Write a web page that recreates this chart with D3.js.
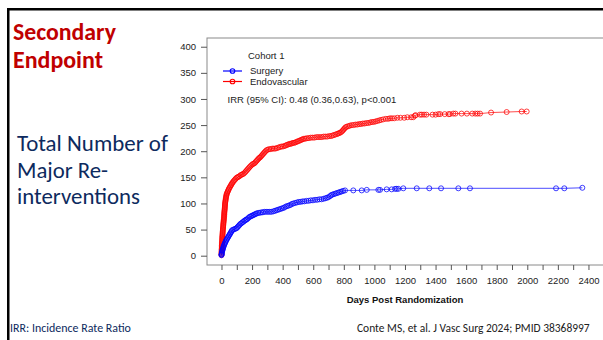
<!DOCTYPE html>
<html>
<head>
<meta charset="utf-8">
<script src="https://cdn.jsdelivr.net/npm/d3@7"></script>
<style>
  body { margin: 0; background: #fff; }
  svg { display: block; }
</style>
</head>
<body>
<div id="chart"></div>
<script>
// ---- data ----
var yTicks = [0, 50, 100, 150, 200, 250, 300, 350, 400];
var xTicks = d3.range(0, 2600, 100);          // minor ticks every 100 days
var xLabels = [0, 200, 400, 600, 800, 1000, 1200, 1400, 1600, 1800, 2000, 2200, 2400];

var legendTitle = "Cohort 1";
var seriesNames = ["Surgery", "Endovascular"];
var irrText = "IRR (95% CI): 0.48 (0.36,0.63), p<0.001";

// Endovascular: days and cumulative re-interventions
var endoDay = [0,0,0,0,1,1,1,2,2,2,3,3,3,4,4,5,5,5,6,6,7,7,8,8,9,9,10,11,11,12,12,13,14,14,15,16,16,17,17,18,18,19,19,20,21,21,22,22,23,23,24,25,26,27,28,29,30,32,33,35,38,41,44,47,50,54,58,62,66,70,75,80,86,92,98,104,110,117,124,131,138,145,152,158,164,170,176,182,188,195,202,209,216,222,228,234,240,246,252,258,264,270,276,282,288,295,303,312,322,332,342,352,362,372,382,392,402,412,420,428,436,444,452,460,468,476,484,492,500,508,516,524,532,540,550,560,572,584,596,608,620,632,644,656,668,680,692,704,716,726,736,746,756,764,772,780,788,794,800,806,812,820,830,840,852,864,876,888,900,912,924,936,948,960,972,984,996,1008,1020,1032,1044,1058,1075,1090,1102,1115,1130,1150,1170,1195,1215,1240,1254,1265,1270,1298,1310,1325,1340,1380,1400,1418,1430,1460,1485,1494,1516,1530,1570,1605,1640,1660,1675,1691,1763,1865,1963,1996];
var endoCount = [1,3,5,7,9,11,13,15,17,19,21,23,25,27,29,31,33,35,37,39,41,43,45,47,49,51,53,55,57,59,61,63,65,67,69,71,73,75,77,79,81,83,85,87,89,91,93,95,97,99,101,103,105,107,109,111,113,115,117,119,121,123,125,127,129,131,133,135,137,139,141,143,145,147,149,150,151,152,154,155,156,157,159,161,163,165,167,169,171,173,175,176,177,179,181,183,185,187,188,190,192,194,196,198,200,202,203,204,204,205,205,205,206,207,208,209,209,210,211,212,213,214,214,215,216,216,217,218,219,220,221,222,223,224,224,225,225,226,226,226,227,227,227,227,228,228,228,229,229,230,231,232,233,234,235,236,238,240,242,244,246,247,248,249,250,250,251,251,252,252,253,253,254,254,255,256,256,257,258,259,260,261,262,262,263,263,263,264,264,264,265,265,265,268,269,270,270,270,270,270,270,271,271,271,271,271,272,272,272,272,272,272,272,272,274,275,276,276];

// Surgery: days and cumulative re-interventions
var surgDay = [0,0,1,2,3,5,7,9,11,13,15,18,21,24,27,30,34,38,42,46,50,54,58,62,66,70,78,86,94,100,106,112,118,124,130,137,144,150,156,162,168,175,182,189,196,203,210,217,224,231,240,250,260,270,280,292,304,316,328,340,350,360,370,380,390,400,410,420,430,440,450,460,470,482,494,506,518,530,542,556,570,584,598,612,626,640,654,668,680,690,700,710,718,726,736,746,756,766,776,786,796,808,862,917,950,1026,1037,1080,1113,1135,1146,1157,1189,1277,1359,1436,1549,1625,2188,2242,2360];
var surgCount = [1,2,3,5,7,9,11,13,15,17,19,21,23,25,27,29,31,33,35,37,39,41,43,45,47,49,50,51,52,53,55,57,59,61,62,64,65,67,68,69,70,72,74,75,76,77,78,79,80,81,82,82,83,83,84,84,84,84,84,85,86,87,88,89,90,91,92,94,95,96,97,99,100,101,102,103,103,104,104,105,105,106,106,107,107,108,108,109,110,111,112,114,116,117,118,119,120,121,122,123,124,125,125,125,126,126,126,127,127,128,128,128,129,129,129,129,129,129,129,129,130];

var W = 603, H = 340;
var box = {left: 207, top: 38, right: 612, bottom: 265};

var svg = d3.select("#chart").append("svg")
    .attr("width", W).attr("height", H);

// slide frame (black rules top and left)
svg.append("rect").attr("x", 7).attr("y", 8).attr("width", W).attr("height", 2.5).attr("fill", "#000");
svg.append("rect").attr("x", 7).attr("y", 8).attr("width", 2.5).attr("height", H).attr("fill", "#000");

// scales (R style: 4% padding around data)
var x = d3.scaleLinear().domain([-94.8, 2554]).range([box.left, box.right]);
var y = d3.scaleLinear().domain([-17.8, 416.7]).range([box.bottom, box.top]);

var axisFont = "'Liberation Sans', Arial, sans-serif";

// plot box
svg.append("rect")
    .attr("x", box.left).attr("y", box.top)
    .attr("width", box.right - box.left).attr("height", box.bottom - box.top)
    .attr("fill", "none").attr("stroke", "#8a8a8a").attr("stroke-width", 1);

// y axis
var yAxis = svg.append("g")
    .attr("transform", "translate(" + box.left + ",0)")
    .call(d3.axisLeft(y).tickValues(yTicks).tickSize(6).tickPadding(5));
yAxis.select(".domain").remove();
yAxis.selectAll("line").attr("stroke", "#555");
yAxis.selectAll("text").attr("font-family", axisFont).attr("font-size", 9.5).attr("fill", "#222");

// x axis
var xAxis = svg.append("g")
    .attr("transform", "translate(0," + box.bottom + ")")
    .call(d3.axisBottom(x).tickValues(xTicks).tickSize(5).tickPadding(7)
      .tickFormat(function(d) { return xLabels.indexOf(d) >= 0 ? d : ""; }));
xAxis.select(".domain").remove();
xAxis.selectAll("line").attr("stroke", "#555");
xAxis.selectAll("text").attr("font-family", axisFont).attr("font-size", 9.5).attr("fill", "#222");

svg.append("text")
    .attr("x", 405).attr("y", 303)
    .attr("text-anchor", "middle")
    .attr("font-family", axisFont).attr("font-size", 9.5).attr("font-weight", "bold")
    .attr("fill", "#111")
    .text("Days Post Randomization");

// series
var series = [
  {name: seriesNames[1], day: endoDay, count: endoCount, color: "#ff0000"},
  {name: seriesNames[0], day: surgDay, count: surgCount, color: "#0000ff"}
];

var line = d3.line()
    .x(function(d) { return x(d[0]); })
    .y(function(d) { return y(d[1]); });

series.forEach(function(s) {
  var pts = d3.zip(s.day, s.count);
  svg.append("path")
      .datum(pts)
      .attr("d", line)
      .attr("fill", "none")
      .attr("stroke", s.color).attr("stroke-opacity", 0.7).attr("stroke-width", 1);
  svg.append("g").selectAll("circle")
      .data(pts)
      .enter()
      .append("circle")
        .attr("cx", function(d) { return x(d[0]); })
        .attr("cy", function(d) { return y(d[1]); })
        .attr("r", 2.5)
        .attr("fill", "none")
        .attr("stroke", s.color).attr("stroke-opacity", 0.75).attr("stroke-width", 1);
});

// legend
var lg = svg.append("g").attr("font-family", axisFont).attr("font-size", 9.5).attr("fill", "#222");
lg.append("text").attr("x", 248).attr("y", 58.5).text(legendTitle);
[{c: "#0000ff", t: seriesNames[0], y: 71}, {c: "#ff0000", t: seriesNames[1], y: 81.5}].forEach(function(e) {
  lg.append("line").attr("x1", 223).attr("x2", 242).attr("y1", e.y).attr("y2", e.y)
    .attr("stroke", e.c).attr("stroke-width", 1.2);
  lg.append("circle").attr("cx", 232.5).attr("cy", e.y).attr("r", 2.3)
    .attr("fill", "none").attr("stroke", e.c).attr("stroke-width", 1.1);
  lg.append("text").attr("x", 250).attr("y", e.y + 3.3).text(e.t);
});
lg.append("text").attr("x", 227.5).attr("y", 102.5).text(irrText);

// slide text
var slideFont = "Carlito, Lato, 'Open Sans', sans-serif";
function fitText(sel, width) {
  var w = sel.node().getComputedTextLength();
  var fs = +sel.attr("font-size");
  sel.attr("font-size", fs * width / w);
}
var red = "#c00000", navy = "#0d2a5e";
fitText(svg.append("text").attr("x", 13).attr("y", 39.5).attr("font-family", slideFont)
  .attr("font-weight", "bold").attr("font-size", 19).attr("fill", red).text("Secondary"), 103);
fitText(svg.append("text").attr("x", 13).attr("y", 68).attr("font-family", slideFont)
  .attr("font-weight", "bold").attr("font-size", 19).attr("fill", red).text("Endpoint"), 90);

fitText(svg.append("text").attr("x", 17).attr("y", 151).attr("font-family", slideFont)
  .attr("font-size", 19).attr("fill", navy).text("Total Number of"), 151);
fitText(svg.append("text").attr("x", 17).attr("y", 178).attr("font-family", slideFont)
  .attr("font-size", 19).attr("fill", navy).text("Major Re-"), 91);
fitText(svg.append("text").attr("x", 17).attr("y", 203.5).attr("font-family", slideFont)
  .attr("font-size", 19).attr("fill", navy).text("interventions"), 123);

fitText(svg.append("text").attr("x", 10).attr("y", 332).attr("font-family", slideFont)
  .attr("font-size", 11).attr("fill", navy).text("IRR: Incidence Rate Ratio"), 121);
fitText(svg.append("text").attr("x", 357).attr("y", 332).attr("font-family", slideFont)
  .attr("font-size", 10).attr("fill", "#222").text("Conte MS, et al. J Vasc Surg 2024; PMID 38368997"), 233);
</script>
</body>
</html>
